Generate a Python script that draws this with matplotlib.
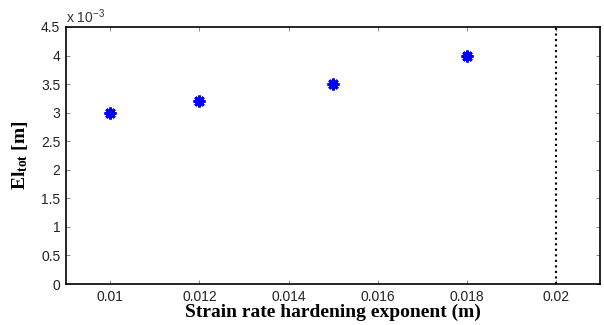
import matplotlib
matplotlib.use("Agg")
import matplotlib.pyplot as plt

# data
exponent = [0.010, 0.012, 0.015, 0.018]
el_tot = [3.0e-3, 3.2e-3, 3.5e-3, 4.0e-3]
limit_x = 0.02

x_ticks = [0.01, 0.012, 0.014, 0.016, 0.018, 0.02]
x_labels = ["0.01", "0.012", "0.014", "0.016", "0.018", "0.02"]
y_ticks = [0, 0.5e-3, 1e-3, 1.5e-3, 2e-3, 2.5e-3, 3e-3, 3.5e-3, 4e-3, 4.5e-3]
y_labels = ["0", "0.5", "1", "1.5", "2", "2.5", "3", "3.5", "4", "4.5"]

plt.rcParams["font.family"] = "Liberation Sans"
plt.rcParams["mathtext.default"] = "regular"

fig = plt.figure(figsize=(6.04, 3.25), dpi=100)
ax = fig.add_axes([0.109, 0.126, 0.885, 0.791])

ax.plot(exponent, el_tot, linestyle="none", marker=(8, 2, 0), markersize=8.5,
        markeredgewidth=2.0, color="blue")
ax.axvline(limit_x, color="black", linestyle=":", linewidth=1.5)

ax.set_xlim(0.009, 0.021)
ax.set_ylim(0, 4.5e-3)
ax.set_xticks(x_ticks)
ax.set_xticklabels(x_labels)
ax.set_yticks(y_ticks)
ax.set_yticklabels(y_labels)

ax.text(0.0, 1.005, r"x 10$^{-3}$", transform=ax.transAxes, fontsize=10,
        color="#333333", va="bottom", ha="left")

ax.tick_params(direction="in", top=True, right=True, labelsize=10, length=3,
               width=0.6, colors="#777777", labelcolor="#222222", pad=4)
for s in ax.spines.values():
    s.set_linewidth(1.2)

ax.set_xlabel("Strain rate hardening exponent (m)", family="Liberation Serif",
              fontweight="bold", fontsize=14, labelpad=0)
ax.set_ylabel(r"El$_{tot}$ [m]", family="Liberation Serif",
              fontweight="bold", fontsize=14, labelpad=8)

fig.savefig("out.png", dpi=100)
